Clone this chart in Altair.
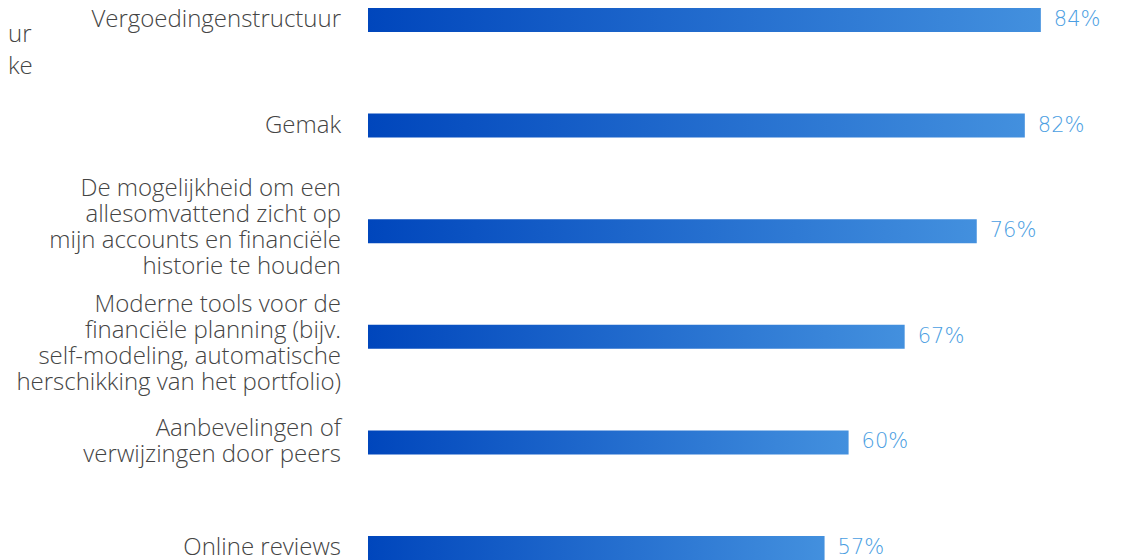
import altair as alt
import pandas as pd

categories = [
    "Vergoedingenstructuur",
    "Gemak",
    "De mogelijkheid om een\nallesomvattend zicht op\nmijn accounts en financiële\nhistorie te houden",
    "Moderne tools voor de\nfinanciële planning (bijv.\nself-modeling, automatische\nherschikking van het portfolio)",
    "Aanbevelingen of\nverwijzingen door peers",
    "Online reviews",
]
values = [84, 82, 76, 67, 60, 57]
value_labels = [f"{v}%" for v in values]
fragments = ["ur", "ke"]

df = pd.DataFrame({"cat": categories, "value": values, "label": value_labels})

FONT = "Open Sans"
LH = 26
PX_PER_PCT = 8.01
PAD_LEFT = 360
W = 750
H = 552
# small vertical nudges of the category labels (styling, in px)
NUDGE = [0, 0, -3, 7, 0, 0]

y_enc = alt.Y("cat:N", sort=categories, axis=None,
              scale=alt.Scale(paddingInner=0.7725, paddingOuter=0))
x_scale = alt.Scale(domain=[0, W / PX_PER_PCT], nice=False, zero=True)

grad = alt.Gradient(
    gradient="linear",
    stops=[alt.GradientStop(color="#0046BC", offset=0),
           alt.GradientStop(color="#4390DE", offset=1)],
    x1=0, x2=1, y1=0, y2=0,
)

base = alt.Chart(df)

bars = base.mark_bar(color=grad).encode(
    x=alt.X("value:Q", scale=x_scale, axis=None),
    y=y_enc,
)

pct = base.mark_text(align="left", baseline="middle", dx=13, font="DejaVu Sans",
                     fontSize=21, fontWeight=300, color="#4A9EE2").encode(
    x=alt.X("value:Q", scale=x_scale, axis=None),
    y=y_enc,
    text="label:N",
)

label_layers = []
for i, cat in enumerate(categories):
    n = cat.count("\n") + 1
    label_layers.append(
        base.transform_filter(alt.datum.cat == cat).mark_text(
            align="right", baseline="middle", dx=-27,
            dy=-(n - 1) / 2 * LH + NUDGE[i],
            font=FONT, fontSize=24, fontWeight=300, color="#444444",
            lineBreak="\n", lineHeight=LH,
        ).encode(
            x=alt.value(0),
            y=y_enc,
            text="cat:N",
        )
    )

frag_df = pd.DataFrame({"t": fragments, "py": [27, 59]})
frags = alt.Chart(frag_df).mark_text(align="left", baseline="middle", font=FONT,
                                     fontSize=24, fontWeight=300, color="#444444").encode(
    x=alt.value(-PAD_LEFT),
    y=alt.Y("py:Q", scale=None),
    text="t:N",
)

chart = alt.layer(bars, pct, *label_layers, frags).properties(
    width=W, height=H,
    autosize=alt.AutoSizeParams(type="none"),
    padding={"left": PAD_LEFT, "top": 0, "right": 0, "bottom": 0},
).configure_view(strokeWidth=0)

chart.save("out.html", embed_options={"renderer": "svg", "actions": False})
